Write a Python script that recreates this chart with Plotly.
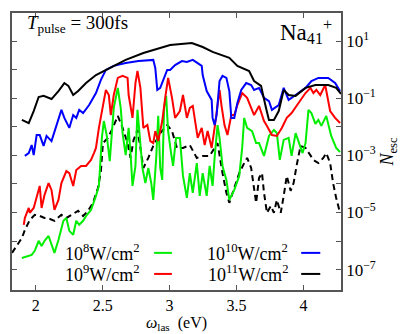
import plotly.graph_objects as go

# laser frequency (eV) and log10(N_esc), one set per intensity
x_1e8 = [1.897, 1.934, 1.970, 1.993, 2.022, 2.044, 2.066, 2.096, 2.118, 2.140, 2.170, 2.207, 2.229, 2.251,
         2.280, 2.303, 2.325, 2.354, 2.376, 2.413, 2.450, 2.472, 2.494, 2.509, 2.531, 2.553, 2.583, 2.613,
         2.635, 2.649, 2.672, 2.694, 2.708, 2.723, 2.745, 2.760, 2.797, 2.819, 2.841, 2.863, 2.878, 2.900,
         2.915, 2.930, 2.945, 2.959, 2.974, 2.989, 3.011, 3.026, 3.048, 3.077, 3.100, 3.129, 3.151, 3.173,
         3.203, 3.225, 3.247, 3.277, 3.299, 3.321, 3.336, 3.358, 3.373, 3.395, 3.424, 3.446, 3.483, 3.520,
         3.542, 3.557, 3.579, 3.616, 3.646, 3.668, 3.705, 3.742, 3.779, 3.801, 3.823, 3.852, 3.889, 3.911,
         3.941, 3.970, 3.993, 4.015, 4.037, 4.059, 4.089, 4.111, 4.133, 4.170, 4.207, 4.244, 4.273]
lg_1e8 = [-6.59, -6.52, -6.48, -6.34, -5.99, -6.17, -5.99, -5.82, -6.13, -6.41, -5.96, -5.29, -5.19, -5.64,
          -5.78, -5.29, -5.43, -5.29, -5.12, -4.91, -4.42, -4.07, -2.39, -1.80, -2.32, -3.20, -1.34, -0.64,
          -1.34, -2.22, -2.99, -2.04, -2.92, -4.07, -3.37, -1.41, -3.44, -3.97, -3.44, -3.97, -4.56, -3.09,
          -1.62, -3.44, -3.86, -1.34, -0.92, -2.15, -2.92, -3.37, -2.39, -2.39, -3.72, -4.49, -3.62, -4.31,
          -3.27, -4.42, -3.62, -4.42, -3.37, -4.07, -3.09, -1.94, -2.39, -3.37, -3.86, -4.56, -4.21, -3.72,
          -2.74, -1.69, -2.04, -2.15, -2.57, -2.57, -3.02, -2.32, -2.11, -2.22, -3.16, -2.46, -2.39, -3.02,
          -2.22, -2.57, -2.92, -2.57, -1.41, -1.52, -1.90, -1.76, -1.97, -1.62, -2.32, -2.74, -2.88]

x_1e9 = [1.911, 1.919, 1.948, 1.956, 1.985, 2.007, 2.030, 2.044, 2.066, 2.096, 2.118, 2.140, 2.170, 2.192,
         2.229, 2.251, 2.280, 2.303, 2.339, 2.376, 2.413, 2.435, 2.450, 2.472, 2.502, 2.524, 2.546, 2.561,
         2.583, 2.613, 2.649, 2.686, 2.694, 2.723, 2.745, 2.760, 2.782, 2.804, 2.834, 2.856, 2.878, 2.893,
         2.915, 2.945, 2.967, 2.989, 3.018, 3.041, 3.077, 3.100, 3.129, 3.151, 3.173, 3.188, 3.210, 3.240,
         3.262, 3.284, 3.314, 3.336, 3.358, 3.373, 3.387, 3.410, 3.432, 3.461, 3.483, 3.506, 3.542, 3.579,
         3.609, 3.631, 3.668, 3.705, 3.727, 3.764, 3.801, 3.838, 3.875, 3.911, 3.963, 4.015, 4.052, 4.074,
         4.096, 4.125, 4.162, 4.199, 4.236, 4.273]
lg_1e9 = [-5.43, -5.19, -4.84, -5.01, -4.84, -4.42, -4.07, -4.84, -4.38, -3.97, -4.21, -4.91, -4.56, -3.97,
          -3.55, -3.62, -4.07, -3.51, -3.37, -3.37, -3.16, -2.92, -2.74, -2.04, -1.24, -0.71, -0.89, -1.59,
          -0.89, -0.29, -0.22, -0.29, -0.89, -1.69, -0.47, -0.05, -0.64, -2.04, -1.94, -2.50, -2.57, -2.15,
          -2.50, -1.80, -0.99, -0.29, -0.99, -1.69, -1.45, -0.89, -1.69, -1.34, -1.27, -1.80, -2.39, -2.04,
          -2.64, -2.15, -2.74, -2.04, -1.24, -0.71, -1.24, -1.94, -2.29, -1.59, -1.59, -1.24, -0.82, -0.99,
          -1.34, -1.59, -1.27, -1.80, -1.97, -2.29, -2.32, -2.04, -1.69, -1.52, -1.17, -0.82, -0.64, -0.82,
          -0.71, -0.89, -0.54, -1.45, -1.69, -1.87]

x_1e10 = [1.919, 1.948, 1.970, 1.985, 2.007, 2.030, 2.059, 2.081, 2.118, 2.140, 2.192, 2.214, 2.251, 2.280,
          2.303, 2.325, 2.354, 2.399, 2.450, 2.487, 2.524, 2.583, 2.672, 2.768, 2.878, 2.893, 2.908, 2.930,
          2.952, 2.982, 3.004, 3.041, 3.092, 3.129, 3.173, 3.210, 3.240, 3.247, 3.277, 3.314, 3.321, 3.336,
          3.351, 3.373, 3.395, 3.424, 3.446, 3.461, 3.483, 3.506, 3.535, 3.572, 3.609, 3.631, 3.668, 3.705,
          3.742, 3.764, 3.815, 3.852, 3.889, 3.941, 4.015, 4.059, 4.111, 4.185, 4.236, 4.273]
lg_1e10 = [-3.02, -2.92, -2.64, -2.99, -2.29, -2.29, -2.67, -2.32, -2.50, -2.15, -1.41, -1.69, -2.04, -1.59,
           -1.69, -1.41, -1.52, -1.24, -0.82, -0.36, -0.01, 0.13, 0.23, 0.30, 0.34, 0.06, -0.71, -0.64,
           -0.40, -0.01, -0.01, 0.16, 0.30, 0.27, 0.34, 0.23, 0.13, -0.19, -0.75, -1.06, -1.69, -1.94,
           -1.59, -0.40, -0.22, -0.29, -0.75, -1.69, -1.69, -1.17, -0.71, -0.47, -0.54, -0.71, -0.64, -0.99,
           -1.10, -1.41, -1.24, -0.64, -1.06, -0.89, -0.64, -0.40, -0.29, -0.29, -0.47, -0.75]

x_1e11 = [1.897, 1.948, 1.985, 2.022, 2.059, 2.118, 2.170, 2.214, 2.244, 2.280, 2.317, 2.376, 2.450, 2.561,
          2.672, 2.804, 3.004, 3.166, 3.247, 3.321, 3.446, 3.506, 3.594, 3.631, 3.683, 3.720, 3.742, 3.779,
          3.815, 3.852, 3.889, 3.941, 4.015, 4.089, 4.185, 4.244, 4.280]
lg_1e11 = [-1.76, -1.87, -1.45, -0.96, -0.92, -1.03, -0.75, -0.47, -0.57, -0.89, -0.75, -0.47, -0.19, 0.09,
           0.34, 0.58, 0.86, 0.93, 0.79, 0.62, 0.41, 0.13, -0.05, -0.40, -0.57, -1.34, -1.76, -1.76,
           -1.45, -0.71, -0.89, -0.92, -0.64, -0.54, -0.54, -0.64, -0.85]

# unlabelled dashed curve
x_dash = [1.823, 1.860, 1.897, 1.919, 1.956, 1.993, 2.030, 2.066, 2.103, 2.140, 2.192, 2.229, 2.266, 2.317,
          2.354, 2.391, 2.428, 2.465, 2.487, 2.502, 2.539, 2.576, 2.613, 2.649, 2.686, 2.708, 2.731, 2.760,
          2.782, 2.804, 2.841, 2.878, 2.930, 2.982, 3.018, 3.055, 3.100, 3.151, 3.203, 3.247, 3.299, 3.336,
          3.358, 3.395, 3.424, 3.446, 3.483, 3.520, 3.557, 3.579, 3.609, 3.631, 3.646, 3.668, 3.690, 3.705,
          3.727, 3.756, 3.779, 3.801, 3.830, 3.852, 3.875, 3.904, 3.926, 3.948, 3.978, 4.015, 4.052, 4.074,
          4.111, 4.148, 4.170, 4.199, 4.221, 4.244, 4.273]
lg_dash = [-6.41, -6.17, -5.89, -5.61, -5.26, -5.08, -5.12, -5.19, -5.22, -5.29, -5.08, -5.19, -5.08, -4.94,
           -5.12, -4.94, -4.66, -4.14, -3.55, -2.57, -2.39, -2.04, -1.62, -2.04, -2.57, -3.09, -2.46, -2.11,
           -2.74, -3.44, -3.09, -2.67, -2.22, -1.94, -2.15, -2.74, -2.74, -2.64, -3.09, -3.02, -3.02, -2.74,
           -2.57, -3.62, -4.31, -4.66, -4.14, -3.62, -3.27, -3.09, -3.44, -4.14, -4.66, -3.79, -3.62, -4.31,
           -5.01, -4.77, -5.01, -4.56, -5.01, -4.42, -3.72, -4.24, -3.97, -3.37, -2.67, -2.74, -3.02, -3.16,
           -3.27, -3.09, -2.92, -3.27, -3.97, -4.49, -5.01]

x_ticks = [2, 2.5, 3, 3.5, 4]
y_decades = list(range(-7, 3))

FONT = "Liberation Serif"

fig = go.Figure()

fig.add_trace(go.Scatter(x=x_dash, y=[10 ** v for v in lg_dash], mode='lines',
                         line=dict(color='black', width=2, dash='6px,4px'), showlegend=False))
fig.add_trace(go.Scatter(x=x_1e8, y=[10 ** v for v in lg_1e8], mode='lines',
                         line=dict(color='#00ee00', width=2), showlegend=False))
fig.add_trace(go.Scatter(x=x_1e9, y=[10 ** v for v in lg_1e9], mode='lines',
                         line=dict(color='#ff0000', width=2), showlegend=False))
fig.add_trace(go.Scatter(x=x_1e10, y=[10 ** v for v in lg_1e10], mode='lines',
                         line=dict(color='#0000ff', width=2), showlegend=False))
fig.add_trace(go.Scatter(x=x_1e11, y=[10 ** v for v in lg_1e11], mode='lines',
                         line=dict(color='black', width=2), showlegend=False))

fig.update_xaxes(range=[1.823, 4.28], tickvals=x_ticks, ticktext=['2', '2.5', '3', '3.5', '4'],
                 ticks='inside', ticklen=5, tickcolor='#555', mirror='ticks', showline=True,
                 linecolor='#555', linewidth=1.5, showgrid=False, zeroline=False,
                 tickfont=dict(family=FONT, size=16, color='black'))
fig.update_yaxes(type='log', range=[-7.71, 1.98], side='right',
                 tickvals=[10 ** d for d in y_decades],
                 ticktext=['10<sup>%s</sup>' % str(d).replace('-', '\u2212') if d % 2 else '' for d in y_decades],
                 ticks='inside', ticklen=5, tickcolor='#555', mirror='ticks', showline=True,
                 linecolor='#555', linewidth=1.5, showgrid=False, zeroline=False,
                 tickfont=dict(family=FONT, size=17, color='black'),
                 title=dict(text='<i>N</i><sub>esc</sub>', font=dict(family=FONT, size=18, color='black'),
                            standoff=6))

# x-axis title as an annotation so it stays inside the page
fig.add_annotation(x=0.5, y=-0.122, xref='paper', yref='paper', xanchor='center', yanchor='middle',
                   text='<i>ω</i><sub>las</sub>  (eV)', showarrow=False,
                   font=dict(family=FONT, size=16, color='black'))

# texts inside the frame
fig.add_annotation(x=0.04, y=0.962, xref='paper', yref='paper', xanchor='left', yanchor='middle',
                   text='<i>T</i><sub>pulse</sub> = 300fs', showarrow=False,
                   font=dict(family=FONT, size=19, color='black'))
fig.add_annotation(x=0.98, y=0.935, xref='paper', yref='paper', xanchor='right', yanchor='middle',
                   text='Na<sub>41</sub><sup>+</sup>', showarrow=False,
                   font=dict(family=FONT, size=23, color='black'))

# legend: label on the left, line sample on the right
legend_items = [
    ('10<sup>8</sup>W/cm<sup>2</sup>', '#00ee00', 0.396, 0.432, 0.486, 0.134),
    ('10<sup>9</sup>W/cm<sup>2</sup>', '#ff0000', 0.396, 0.432, 0.486, 0.058),
    ('10<sup>10</sup>W/cm<sup>2</sup>', '#0000ff', 0.846, 0.879, 0.937, 0.134),
    ('10<sup>11</sup>W/cm<sup>2</sup>', 'black', 0.846, 0.879, 0.937, 0.058),
]
for label, color, tx, x0, x1, yy in legend_items:
    fig.add_annotation(x=tx, y=yy, xref='paper', yref='paper', xanchor='right', yanchor='middle',
                       text=label, showarrow=False,
                       font=dict(family=FONT, size=18, color='black'))
    fig.add_shape(type='line', xref='paper', yref='paper', x0=x0, x1=x1, y0=yy, y1=yy,
                  line=dict(color=color, width=2))

fig.update_layout(width=411, height=334, margin=dict(l=2, r=78, t=5, b=52),
                  paper_bgcolor='white', plot_bgcolor='white', showlegend=False)

fig.write_html("out.html")
